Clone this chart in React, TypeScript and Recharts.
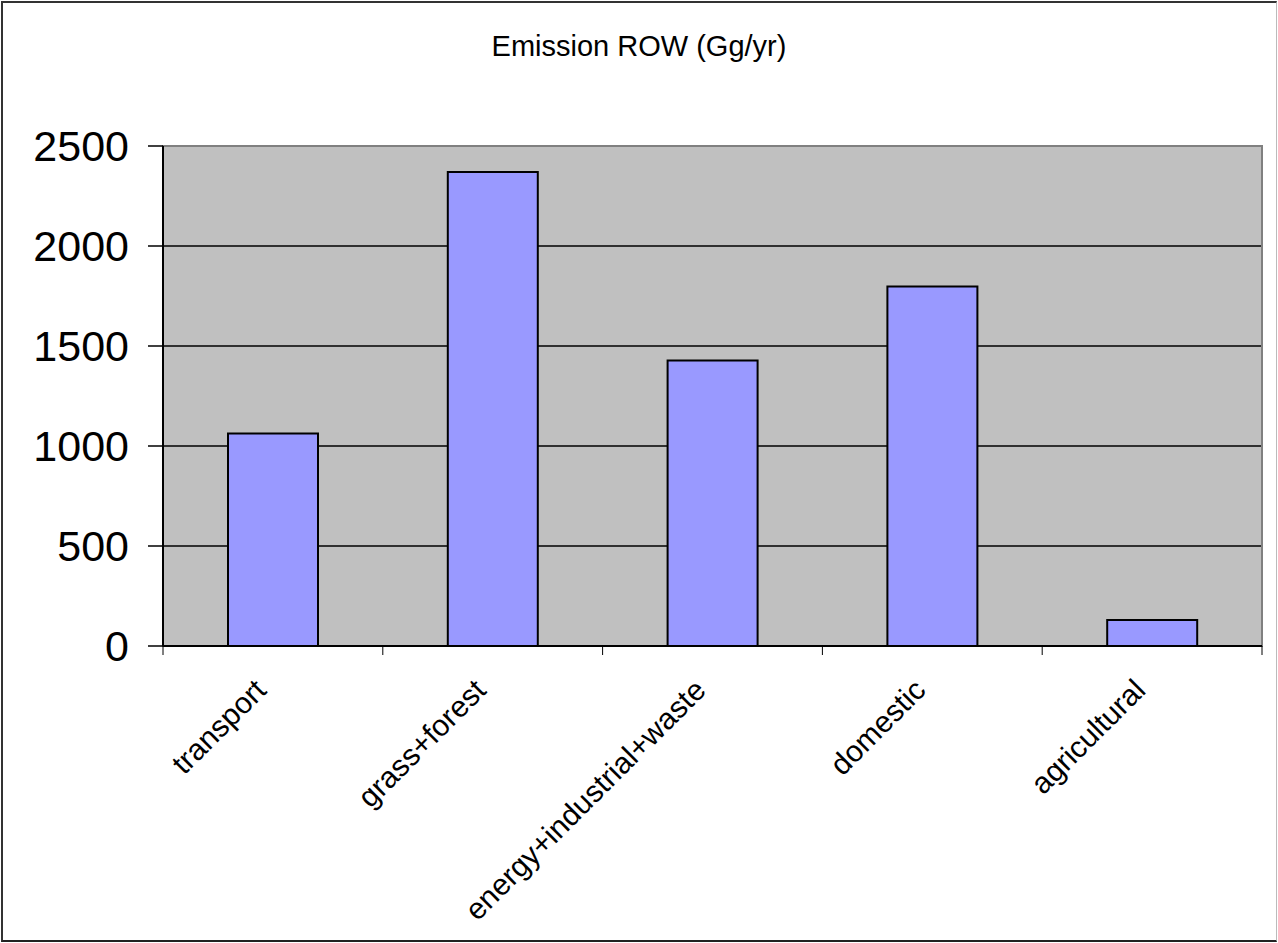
import { BarChart, Bar, XAxis, YAxis, CartesianGrid, ReferenceArea } from "recharts"

const categories = ["transport", "grass+forest", "energy+industrial+waste", "domestic", "agricultural"]
const emissions = [1063, 2370, 1428, 1797, 130]
const yTicks = [0, 500, 1000, 1500, 2000, 2500]

const chartData = categories.map((name, i) => ({ name, value: emissions[i] }))

const W = 1278
const H = 943
const margin = { top: 146, right: 16, left: 0, bottom: 0 }
const yAxisWidth = 163
const bandWidth = (W - yAxisWidth - margin.right) / categories.length

const font = "'Liberation Sans', Arial, sans-serif"

const CategoryTick = (props: any) => {
  const { x, payload, index } = props
  const axisY = H - 297
  const lx = x - 5
  const ly = axisY + 46
  return (
    <g>
      <line x1={x - bandWidth / 2} y1={axisY} x2={x - bandWidth / 2} y2={axisY + 9} stroke="#000" />
      {index === categories.length - 1 && (
        <line x1={x + bandWidth / 2} y1={axisY} x2={x + bandWidth / 2} y2={axisY + 9} stroke="#000" />
      )}
      <text
        x={lx}
        y={ly}
        textAnchor="end"
        fontSize={30}
        fontFamily={font}
        fill="#000"
        transform={`rotate(-45, ${lx}, ${ly})`}
      >
        {payload.value}
      </text>
    </g>
  )
}

export default function App() {
  return (
    <div style={{ position: "absolute", left: 0, top: 0, width: W, height: H, background: "#fff" }}>
      <div
        style={{
          position: "absolute",
          left: 1,
          top: 1,
          width: W - 2,
          height: H - 2,
          boxSizing: "border-box",
          borderTop: "2px solid #333",
          borderLeft: "2px solid #333",
          borderBottom: "2px solid #222",
          borderRight: "1px solid #bbb",
        }}
      />
      <div
        style={{
          position: "absolute",
          left: 0,
          top: 32,
          width: W,
          textAlign: "center",
          fontFamily: font,
          fontSize: 29,
          lineHeight: "29px",
          color: "#000",
        }}
      >
        Emission ROW (Gg/yr)
      </div>
      <div style={{ position: "absolute", left: 0, top: 0 }}>
        <BarChart width={W} height={H} data={chartData} margin={margin} barSize={90}>
          <CartesianGrid
            vertical={false}
            fill="#c0c0c0"
            fillOpacity={1}
            stroke="#000"
            strokeWidth={1.5}
            horizontalValues={[500, 1000, 1500, 2000]}
          />
          <ReferenceArea y1={0} y2={2500} fill="none" stroke="#808080" strokeWidth={2} />
          <XAxis
            dataKey="name"
            height={297}
            interval={0}
            tickLine={false}
            axisLine={{ stroke: "#000", strokeWidth: 2 }}
            tick={<CategoryTick />}
          />
          <YAxis
            width={yAxisWidth}
            domain={[0, 2500]}
            ticks={yTicks}
            interval={0}
            tickSize={15}
            tickMargin={19}
            tickLine={{ stroke: "#000", strokeWidth: 1.5 }}
            axisLine={{ stroke: "#000", strokeWidth: 2 }}
            tick={{ fill: "#000", fontSize: 43, fontFamily: font }}
          />
          <Bar dataKey="value" fill="#9999ff" stroke="#000" strokeWidth={2} isAnimationActive={false} />
        </BarChart>
      </div>
    </div>
  )
}
